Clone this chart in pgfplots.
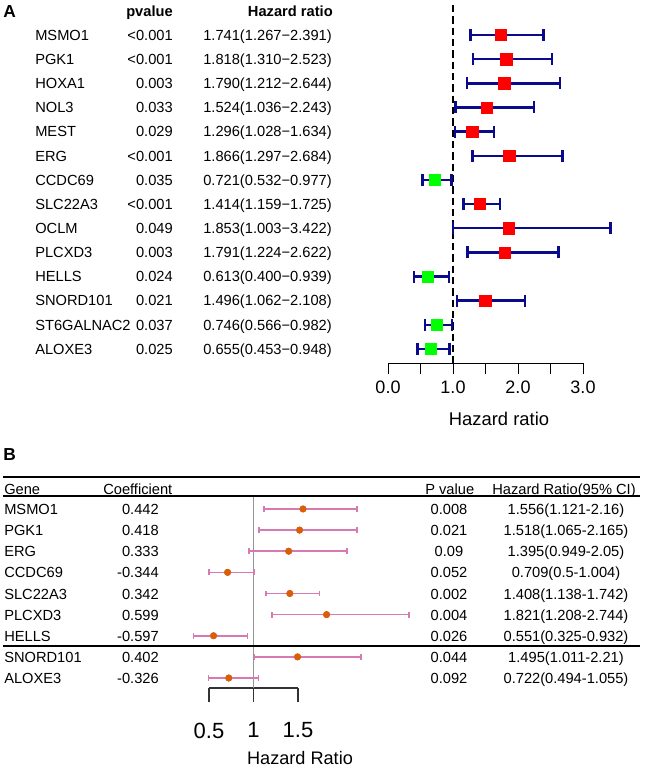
\documentclass[border=0pt]{standalone}
\usepackage{fontspec}
\setmainfont{Liberation Sans}
\usepackage{pgfplots}
\usepackage{pgfplotstable}
\pgfplotsset{compat=1.18}

\definecolor{navyA}{RGB}{10,10,140}
\definecolor{redA}{RGB}{255,0,0}
\definecolor{greenA}{RGB}{0,255,0}
\definecolor{pinkB}{RGB}{214,122,177}
\definecolor{orangeB}{RGB}{217,95,2}
\definecolor{grayB}{RGB}{150,150,150}

% panel A: univariate Cox
\pgfplotstableread{
row hr lo hi
1 1.741 1.267 2.391
2 1.818 1.310 2.523
3 1.790 1.212 2.644
4 1.524 1.036 2.243
5 1.296 1.028 1.634
6 1.866 1.297 2.684
7 0.721 0.532 0.977
8 1.414 1.159 1.725
9 1.853 1.003 3.422
10 1.791 1.224 2.622
11 0.613 0.400 0.939
12 1.496 1.062 2.108
13 0.746 0.566 0.982
14 0.655 0.453 0.948
}\tabA

% panel B: multivariate Cox
\pgfplotstableread{
row hr lo hi
1 1.556 1.121 2.16
2 1.518 1.065 2.165
3 1.395 0.949 2.05
4 0.709 0.5 1.004
5 1.408 1.138 1.742
6 1.821 1.208 2.744
7 0.551 0.325 0.932
8 1.495 1.011 2.21
9 0.722 0.494 1.055
}\tabB

\newcommand\fbody{\fontsize{11pt}{13pt}\selectfont}

\begin{document}
\begin{tikzpicture}
\path[use as bounding box] (0,0) rectangle (487.5pt,-579pt);

\begin{axis}[
  at={(291pt,-272.25pt)}, anchor=south west,
  scale only axis, width=146.25pt, height=264.1pt,
  xmin=0, xmax=3, ymin=-14.58, ymax=0,
  clip=false,
  axis y line=none, axis x line*=bottom,
  axis line style={black, line width=0.75pt},
  xtick={0,1,2,3}, minor xtick={0.5,1.5,2.5},
  tick align=outside,
  major tick length=8.25pt, minor tick length=8.25pt,
  tick style={black, line width=0.75pt},
  every minor tick/.style={black, line width=0.75pt},
  xticklabel style={font=\fontsize{13.5pt}{15pt}\selectfont, yshift=-1.5pt},
  /pgf/number format/.cd, fixed, zerofill, precision=1, assume math mode=true,
]
\addplot[black, line width=1.8pt, dash pattern=on 5.5pt off 3pt]
  coordinates {(1,0.25) (1,-14.58)};
\addplot[navyA, line width=1.8pt, only marks, mark=none,
  error bars/.cd, x dir=both, x explicit, error mark=|,
  error bar style={navyA, line width=1.8pt},
  error mark options={navyA, line width=1.8pt, mark size=4.5pt}]
  table[x=hr, y expr=-\thisrow{row},
        x error plus expr=\thisrow{hi}-\thisrow{hr},
        x error minus expr=\thisrow{hr}-\thisrow{lo}] {\tabA};
\addplot[only marks, mark=square*, mark size=4.2pt,
  mark options={draw=redA, fill=redA},
  unbounded coords=discard, x filter/.expression={x>1 ? x : nan}]
  table[x=hr, y expr=-\thisrow{row}] {\tabA};
\addplot[only marks, mark=square*, mark size=4.2pt,
  mark options={draw=greenA, fill=greenA},
  unbounded coords=discard, x filter/.expression={x<1 ? x : nan}]
  table[x=hr, y expr=-\thisrow{row}] {\tabA};
\end{axis}

\begin{axis}[
  at={(156.75pt,-516pt)}, anchor=south west,
  scale only axis, width=66.75pt, height=144.1pt,
  xmin=0.5, xmax=1.5, ymin=-9.473, ymax=-0.38,
  clip=false,
  axis y line=none, axis x line*=bottom,
  axis line style={black!80, line width=0.8pt},
  xtick={0.5,1,1.5}, xticklabels={0.5,1,1.5},
  tick align=outside, major tick length=10.5pt,
  tick style={black!80, line width=0.8pt},
  xticklabel style={font=\fontsize{16.5pt}{18pt}\selectfont, yshift=-12pt},
]
\addplot[grayB, line width=0.8pt] coordinates {(1,-0.38) (1,-9.473)};
\addplot[pinkB, line width=1.2pt, only marks, mark=none,
  error bars/.cd, x dir=both, x explicit, error mark=|,
  error bar style={pinkB, line width=1.2pt},
  error mark options={pinkB, line width=1.2pt, mark size=2.2pt}]
  table[x=hr, y expr=-\thisrow{row},
        x error plus expr=\thisrow{hi}-\thisrow{hr},
        x error minus expr=\thisrow{hr}-\thisrow{lo}] {\tabB};
\addplot[only marks, mark=*, mark size=2.4pt,
  mark options={draw=orangeB, fill=orangeB}]
  table[x=hr, y expr=-\thisrow{row}] {\tabB};
\end{axis}

\begin{scope}[x=0.75pt, y=-0.75pt]
% panel A text
\node[anchor=base west, inner sep=0pt, font=\bfseries\fontsize{13pt}{15pt}\selectfont] at (3,17.3) {A};
\node[anchor=base east, inner sep=0pt, font=\bfseries\fbody] at (173,16.8) {pvalue};
\node[anchor=base east, inner sep=0pt, font=\bfseries\fbody] at (333,16.8) {Hazard ratio};
\foreach \g/\p/\h [count=\i] in {
  MSMO1/{<0.001}/{1.741(1.267−2.391)},
  PGK1/{<0.001}/{1.818(1.310−2.523)},
  HOXA1/{0.003}/{1.790(1.212−2.644)},
  NOL3/{0.033}/{1.524(1.036−2.243)},
  MEST/{0.029}/{1.296(1.028−1.634)},
  ERG/{<0.001}/{1.866(1.297−2.684)},
  CCDC69/{0.035}/{0.721(0.532−0.977)},
  SLC22A3/{<0.001}/{1.414(1.159−1.725)},
  OCLM/{0.049}/{1.853(1.003−3.422)},
  PLCXD3/{0.003}/{1.791(1.224−2.622)},
  HELLS/{0.024}/{0.613(0.400−0.939)},
  SNORD101/{0.021}/{1.496(1.062−2.108)},
  ST6GALNAC2/{0.037}/{0.746(0.566−0.982)},
  ALOXE3/{0.025}/{0.655(0.453−0.948)}} {
  \node[anchor=base west, inner sep=0pt, font=\fbody] at (35,{40.25+(\i-1)*24.15}) {\g};
  \node[anchor=base east, inner sep=0pt, font=\fbody] at (173,{40.25+(\i-1)*24.15}) {\p};
  \node[anchor=base east, inner sep=0pt, font=\fbody] at (332,{40.25+(\i-1)*24.15}) {\h};
}
\node[font=\fontsize{13.8pt}{16pt}\selectfont] at (499,419) {Hazard ratio};

% panel B text
\node[anchor=base west, inner sep=0pt, font=\bfseries\fontsize{13pt}{15pt}\selectfont] at (3,460) {B};
\draw[black, line width=1.6pt] (3,477) -- (640,477);
\draw[black, line width=1.6pt] (3,496) -- (640,496);
\draw[black, line width=1.6pt] (3,646) -- (640,646);
\node[anchor=base west, inner sep=0pt, font=\fbody] at (4,494.5) {Gene};
\node[anchor=base west, inner sep=0pt, font=\fbody] at (103,494.5) {Coefficient};
\node[anchor=base west, inner sep=0pt, font=\fbody] at (425,494.5) {P value};
\node[anchor=base west, inner sep=0pt, font=\fbody] at (492,494.5) {Hazard Ratio(95\% CI)};
\foreach \g/\c/\p/\h [count=\i] in {
  MSMO1/0.442/0.008/{1.556(1.121-2.16)},
  PGK1/0.418/0.021/{1.518(1.065-2.165)},
  ERG/0.333/0.09/{1.395(0.949-2.05)},
  CCDC69/-0.344/0.052/{0.709(0.5-1.004)},
  SLC22A3/0.342/0.002/{1.408(1.138-1.742)},
  PLCXD3/0.599/0.004/{1.821(1.208-2.744)},
  HELLS/-0.597/0.026/{0.551(0.325-0.932)},
  SNORD101/0.402/0.044/{1.495(1.011-2.21)},
  ALOXE3/-0.326/0.092/{0.722(0.494-1.055)}} {
  \node[anchor=base west, inner sep=0pt, font=\fbody] at (4,{514.6+(\i-1)*21.125}) {\g};
  \node[anchor=base east, inner sep=0pt, font=\fbody] at (159,{514.6+(\i-1)*21.125}) {\c};
  \node[anchor=base, inner sep=0pt, font=\fbody] at (449,{514.6+(\i-1)*21.125}) {\p};
  \node[anchor=base, inner sep=0pt, font=\fbody] at (566,{514.6+(\i-1)*21.125}) {\h};
}
\node[font=\fontsize{13.6pt}{16pt}\selectfont] at (300,758) {Hazard Ratio};
\end{scope}
\end{tikzpicture}
\end{document}
